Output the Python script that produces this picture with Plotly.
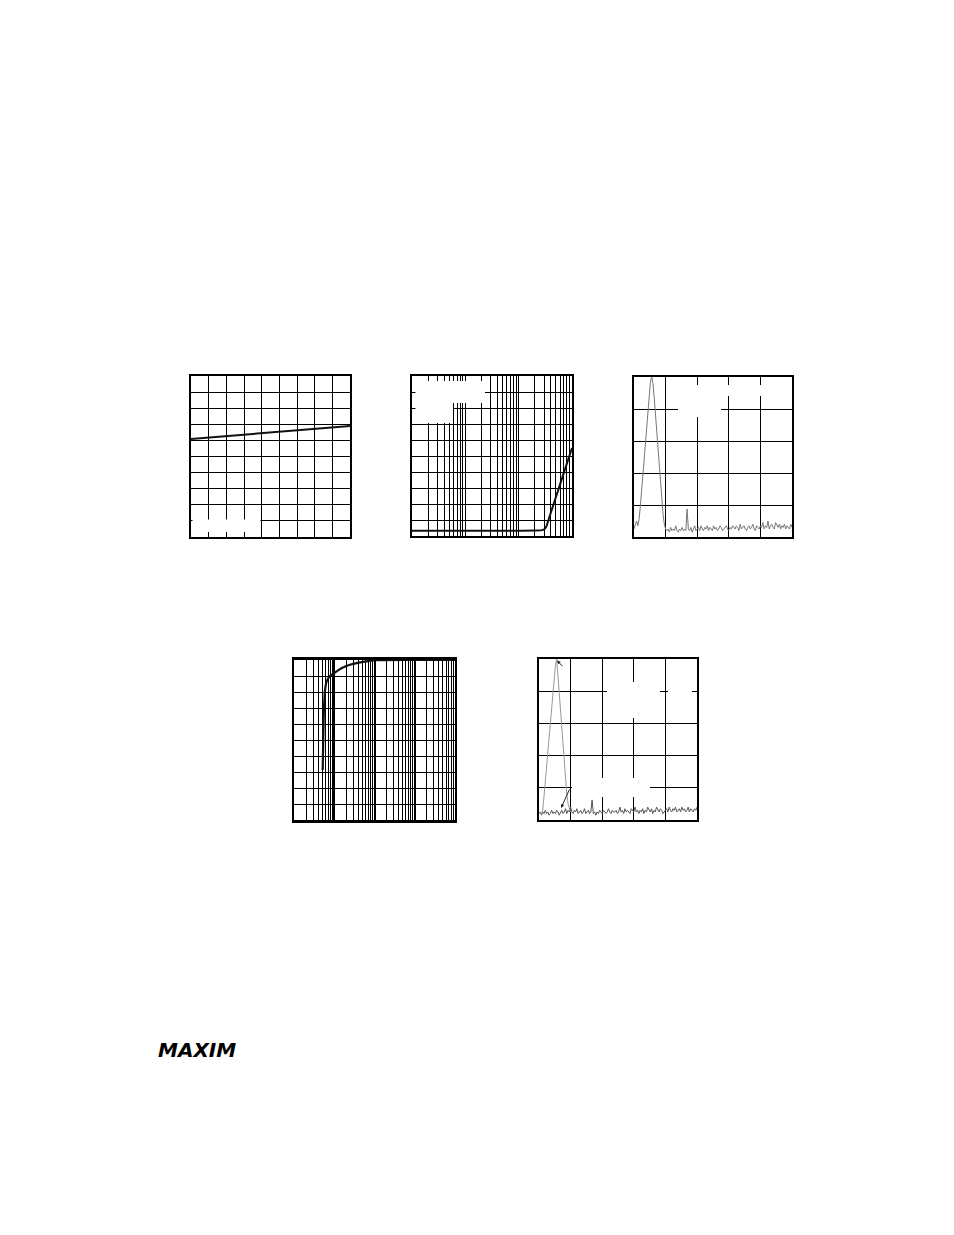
import numpy as np
import plotly.graph_objects as go

# page is 954x1235; the html body adds an 8px margin, so the figure is sized to fit inside it
PAGE_W, PAGE_H = 954, 1235
OFF = 8
W, H = PAGE_W - 2 * OFF, PAGE_H - 2 * OFF

# ---------------- data ----------------
# Panel 1: linear trend vs temperature
p1_x = [-40, 140]
p1_y = [6.09, 6.89]

# Panel 2: log-x curve
p2_x = [1, 10, 100, 200, 280, 320, 350, 400, 500, 600, 700, 800, 900, 1000]
p2_y = [0.33, 0.33, 0.33, 0.34, 0.37, 0.5, 0.85, 1.45, 2.44, 3.24, 3.93, 4.52, 5.04, 5.5]

# Panel 3: FFT spectrum (dB), bins of 0.04 division
p3_db = [-95, -93, -90, -93, -89, -81, -71, -61, -51, -41, -31, -21, -11, -3, 0, -4,
         -13, -24, -35, -46, -57, -68, -78, -86, -92, -95,
         -96, -95, -97, -94, -96, -95, -96, -93, -96, -97, -95, -96, -94, -96, -95, -96,
         -82.5,
         -95, -96, -94, -97, -95, -93, -96, -95, -94, -96, -93, -95, -96, -94, -95, -93, -96,
         -94, -95, -96, -93, -95, -94, -96, -95, -93, -94, -96, -95, -94, -93, -95, -96, -94, -95, -93, -94,
         -95, -93, -94, -96, -92, -95, -94, -93, -95, -96, -94, -93, -95, -94, -92, -95, -96, -93, -94, -95,
         -93, -94, -91, -95, -93, -94, -90, -95, -93, -92, -94, -95, -91, -93, -94, -92, -95, -93, -94, -92,
         -95, -93, -94, -95, -92, -94]

# Panel 4: log-x response
p4_x = [51.6, 54.7, 58.9, 64.6, 77.6, 97.7, 151, 269, 575, 1023, 100000]
p4_y = [3.12, 6.46, 8.1, 8.65, 9.0, 9.17, 9.48, 9.73, 9.9, 9.99, 10.0]

# Panel 5: FFT spectrum, peak trace + noise floor trace
p5_peak_db = [-96, -95, -96, -94, -85, -75.5, -66, -56, -47, -37.5, -28, -18, -9, -4, 0, -11,
              -23, -35, -46, -57, -67, -76, -84, -90, -93, -95]
p5_noise_db = [-96, -95, -97, -95, -96, -94, -96, -95, -97, -96, -94, -96, -95, -96, -94, -95,
               -97, -95, -94, -96, -95, -93, -96, -94, -95, -92,
               -95, -96, -94, -95, -93, -96, -95, -94, -96, -95, -93, -96, -95, -94, -96, -95,
               -87.5,
               -96, -95, -97, -95, -96, -94, -95, -96, -94, -95, -96, -95, -93, -95, -96, -94, -95,
               -95, -94, -96, -95, -92, -95, -94, -96, -93, -95, -94, -95, -96, -93, -94, -95, -92, -95, -94, -96,
               -94, -95, -93, -96, -94, -95, -92, -94, -95, -93, -96, -94, -95, -92, -94, -95, -93, -94, -96, -95,
               -94, -93, -95, -92, -94, -95, -93, -94, -92, -95, -94, -93, -95, -92, -94, -93, -95, -94, -92, -95,
               -93, -94, -95, -93, -94, -92]

BIN = 0.04
p3_f = np.arange(len(p3_db)) * BIN
p5_peak_f = np.arange(len(p5_peak_db)) * BIN
p5_noise_f = np.arange(len(p5_noise_db)) * BIN

log_grid_2 = [m * 10 ** d for d in range(0, 3) for m in range(1, 10)] + [1000]
log_major_4 = [10, 100, 1000, 10000, 100000]
log_minor_4 = [m * 10 ** d for d in range(1, 5) for m in range(2, 10)]

# ---------------- layout helpers (page pixel -> paper fraction) ----------------
def fx(px):
    return (px - OFF) / W

def fy(py):
    return 1 - (py - OFF) / H

def px_dom_x(a, b):
    return [fx(a), fx(b)]

def px_dom_y(top, bottom):
    return [fy(bottom), fy(top)]

fig = go.Figure()

fig.add_trace(go.Scatter(x=p1_x, y=p1_y, mode="lines", line=dict(color="#111", width=2),
                         xaxis="x", yaxis="y", showlegend=False))
fig.add_trace(go.Scatter(x=p2_x, y=p2_y, mode="lines", line=dict(color="#111", width=2, shape="spline", smoothing=0.8),
                         xaxis="x2", yaxis="y2", showlegend=False))
fig.add_trace(go.Scatter(x=p3_f, y=p3_db, mode="lines", line=dict(color="#777", width=1),
                         xaxis="x3", yaxis="y3", showlegend=False))
fig.add_trace(go.Scatter(x=p4_x, y=p4_y, mode="lines", line=dict(color="#111", width=2.2, shape="spline", smoothing=0.5),
                         xaxis="x4", yaxis="y4", showlegend=False))
fig.add_trace(go.Scatter(x=p5_noise_f, y=p5_noise_db, mode="lines", line=dict(color="#555", width=1),
                         xaxis="x5", yaxis="y5", showlegend=False))
fig.add_trace(go.Scatter(x=p5_peak_f, y=p5_peak_db, mode="lines", line=dict(color="#999", width=1),
                         xaxis="x5", yaxis="y5", showlegend=False))

common = dict(showgrid=True, gridcolor="black", gridwidth=1.3, showline=True, mirror=True,
              linecolor="black", linewidth=2.2, ticks="", showticklabels=False, zeroline=False,
              fixedrange=True)

layout = dict(
    width=W, height=H, margin=dict(l=0, r=0, t=0, b=0),
    paper_bgcolor="white", plot_bgcolor="white", showlegend=False,
    xaxis=dict(common, domain=px_dom_x(191, 350), range=[-40, 140], dtick=20, tick0=-40, anchor="y"),
    yaxis=dict(common, domain=px_dom_y(376, 537), range=[0, 10], dtick=1, anchor="x"),
    xaxis2=dict(common, domain=px_dom_x(412, 572), type="log", range=[0, 3], tickvals=log_grid_2, anchor="y2"),
    yaxis2=dict(common, domain=px_dom_y(376, 536), range=[0, 10], dtick=1, anchor="x2"),
    xaxis3=dict(common, domain=px_dom_x(634, 792), range=[0, 5], dtick=1, anchor="y3", linewidth=2.3),
    yaxis3=dict(common, domain=px_dom_y(377, 537), range=[-100, 0], dtick=20, anchor="x3", linewidth=2.3),
    xaxis4=dict(common, domain=px_dom_x(294, 455), type="log", range=[1, 5], tickvals=log_major_4,
                gridwidth=2.4, linewidth=2.6, anchor="y4",
                minor=dict(tickvals=log_minor_4, showgrid=True, gridcolor="black", gridwidth=1.2, ticks="")),
    yaxis4=dict(common, domain=px_dom_y(660, 820), range=[0, 10], dtick=1, anchor="x4"),
    xaxis5=dict(common, domain=px_dom_x(539, 697), range=[0, 5], dtick=1, anchor="y5", linewidth=2.3),
    yaxis5=dict(common, domain=px_dom_y(659, 820), range=[-100, 0], dtick=20, anchor="x5", linewidth=2.3),
)
fig.update_layout(**layout)

# white label-area masks (where legend text sat on the original page), page pixels
masks = [
    (192.5, 519.5, 260.5, 532),
    (415.5, 381, 485, 403),
    (415.5, 403, 453, 423),
    (678, 385, 721, 417),
    (721, 385, 772, 396),
    (607, 682, 660, 718),
    (668, 689, 692, 697),
    (572, 778, 650, 797),
]
for x0, y0, x1, y1 in masks:
    fig.add_shape(type="rect", xref="paper", yref="paper",
                  x0=fx(x0), x1=fx(x1), y0=fy(y1), y1=fy(y0),
                  fillcolor="white", line=dict(width=0), layer="above")

# pointer arrows in panel 5
fig.add_annotation(xref="x5", yref="y5", x=0.57, y=-1, ax=7, ay=7, text="",
                   showarrow=True, arrowhead=2, arrowsize=0.7, arrowwidth=1, arrowcolor="#222")
fig.add_annotation(xref="x5", yref="y5", x=0.70, y=-92.5, ax=9, ay=-20, text="",
                   showarrow=True, arrowhead=2, arrowsize=0.7, arrowwidth=1, arrowcolor="#222")

# logo
fig.add_annotation(xref="paper", yref="paper", x=fx(196.5), y=fy(1049.5), text="<b><i>MAXIM</i></b>",
                   showarrow=False, font=dict(family="DejaVu Sans", size=20, color="black"),
                   xanchor="center", yanchor="middle")

fig.write_html("out.html")
